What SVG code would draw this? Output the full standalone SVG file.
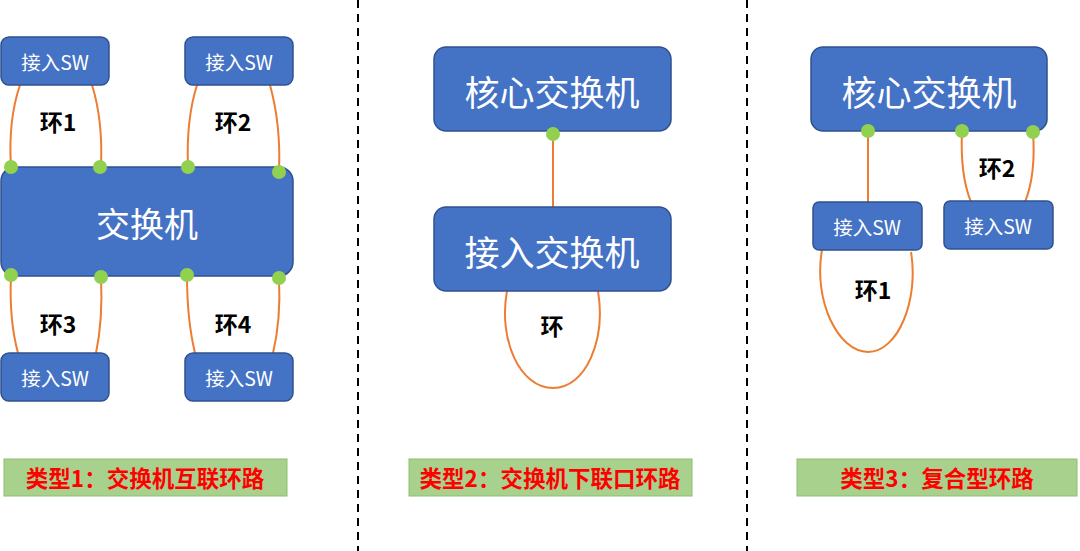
<svg xmlns="http://www.w3.org/2000/svg" width="1080" height="551" viewBox="0 0 1080 551">
<style>
.box{fill:#4472c4;stroke:#2f528f;stroke-width:1.5}
.t{font-family:"Noto Sans CJK SC","Noto Sans",sans-serif;fill:#fff;text-anchor:middle;dominant-baseline:central}
.sw{font-size:19.5px}
.big{font-size:35px}
.mid{font-size:34px}
.ring{font-family:"Noto Sans CJK SC","Noto Sans",sans-serif;font-size:23px;font-weight:bold;fill:#000;text-anchor:middle;dominant-baseline:central}
.ln{fill:none;stroke:#ed7d31;stroke-width:2}
.dot{fill:#92d050}
.cap{fill:#a9d18e;stroke:#8fbf6f;stroke-width:1}
.capt{font-family:"Noto Sans CJK SC","Noto Sans",sans-serif;font-size:22.5px;font-weight:bold;fill:#ff0000;text-anchor:middle;dominant-baseline:central}
.dash{stroke:#000;stroke-width:2;stroke-dasharray:8,6}
</style>
<rect width="1080" height="551" fill="#fff"/>
<g id="dividers">
<line class="dash" x1="358" y1="0" x2="358" y2="551"/>
<line class="dash" x1="747" y1="0" x2="747" y2="551"/>
</g>
<g id="connectors">
<path class="ln" d="M20,85 Q8,120 11,167"/>
<path class="ln" d="M92,85 Q103,120 101,167"/>
<path class="ln" d="M197,85 Q186,120 188,167"/>
<path class="ln" d="M270,85 Q281,125 279,172"/>
<path class="ln" d="M11,275 Q9,320 18,353"/>
<path class="ln" d="M101,277 Q103,320 96,353"/>
<path class="ln" d="M187,275 Q187,320 195,353"/>
<path class="ln" d="M279,278 Q281,320 273,353"/>
<line class="ln" x1="553" y1="134" x2="553" y2="207"/>
<path class="ln" d="M507,291 C498,340 520,388 553,388 C586,388 606,340 598,291"/>
<line class="ln" x1="868" y1="131" x2="868" y2="202"/>
<path class="ln" d="M962,131 Q960,175 971,202"/>
<path class="ln" d="M1033,132 Q1036,175 1025,202"/>
<path class="ln" d="M822,250 C813,300 838,352 868,352 C898,352 919,300 911,252"/>
</g>
<g id="ring-labels">
<text class="ring" x="58" y="121">环1</text>
<text class="ring" x="233" y="121">环2</text>
<text class="ring" x="58" y="323">环3</text>
<text class="ring" x="233" y="323">环4</text>
<text class="ring" x="552" y="325">环</text>
<text class="ring" x="997" y="167">环2</text>
<text class="ring" x="873" y="289">环1</text>
</g>
<g id="sw1"><rect class="box" x="1" y="37" width="108" height="48" rx="8"/><text class="t sw" x="55" y="61">接入SW</text></g>
<g id="sw2"><rect class="box" x="185" y="37" width="108" height="48" rx="8"/><text class="t sw" x="239" y="61">接入SW</text></g>
<g id="switch"><rect class="box" x="1" y="167" width="292" height="109" rx="14"/><text class="t mid" x="147" y="222">交换机</text></g>
<g id="sw3"><rect class="box" x="1" y="353" width="108" height="48" rx="8"/><text class="t sw" x="55" y="377">接入SW</text></g>
<g id="sw4"><rect class="box" x="185" y="353" width="108" height="48" rx="8"/><text class="t sw" x="239" y="377">接入SW</text></g>
<g id="core2"><rect class="box" x="434" y="47" width="237" height="84" rx="12"/><text class="t big" x="552" y="90">核心交换机</text></g>
<g id="access2"><rect class="box" x="434" y="207" width="237" height="84" rx="12"/><text class="t big" x="552" y="250">接入交换机</text></g>
<g id="core3"><rect class="box" x="811" y="47" width="236" height="84" rx="12"/><text class="t big" x="929" y="90">核心交换机</text></g>
<g id="sw5"><rect class="box" x="813" y="202" width="109" height="48" rx="6"/><text class="t sw" x="867" y="226">接入SW</text></g>
<g id="sw6"><rect class="box" x="944" y="201" width="109" height="48" rx="6"/><text class="t sw" x="998" y="225">接入SW</text></g>
<g id="dots">
<circle class="dot" cx="11" cy="167" r="7"/>
<circle class="dot" cx="100" cy="167" r="7"/>
<circle class="dot" cx="188" cy="167" r="7"/>
<circle class="dot" cx="279" cy="172" r="7"/>
<circle class="dot" cx="11" cy="275" r="7"/>
<circle class="dot" cx="101" cy="277" r="7"/>
<circle class="dot" cx="187" cy="275" r="7"/>
<circle class="dot" cx="279" cy="278" r="7"/>
<circle class="dot" cx="553" cy="134" r="7"/>
<circle class="dot" cx="868" cy="131" r="7"/>
<circle class="dot" cx="962" cy="131" r="7"/>
<circle class="dot" cx="1033" cy="132" r="7"/>
</g>
<g id="cap1"><rect class="cap" x="4" y="459" width="283" height="37"/><text class="capt" x="145" y="477">类型1：交换机互联环路</text></g>
<g id="cap2"><rect class="cap" x="409" y="459" width="283" height="37"/><text class="capt" x="550" y="477">类型2：交换机下联口环路</text></g>
<g id="cap3"><rect class="cap" x="797" y="459" width="280" height="37"/><text class="capt" x="937" y="477">类型3：复合型环路</text></g>
</svg>
